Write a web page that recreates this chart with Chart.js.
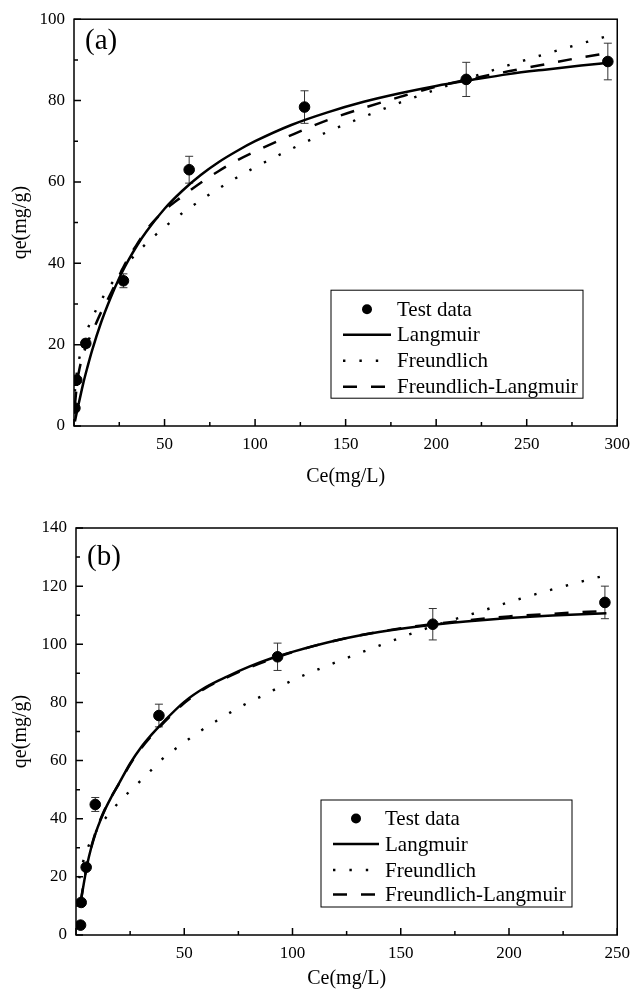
<!DOCTYPE html>
<html>
<head>
<meta charset="utf-8">
<script src="https://cdn.jsdelivr.net/npm/chart.js@4.4.1/dist/chart.umd.min.js"></script>
<style>
  html, body { margin: 0; padding: 0; background: #fff; }
  #wrap { position: relative; width: 638px; height: 996px; }
  .panel { position: absolute; left: 0; width: 638px; }
  #panelA { top: 0; height: 490px; }
  #panelB { top: 490px; height: 506px; }
</style>
</head>
<body>
<div id="wrap">
  <div class="panel" id="panelA"><canvas id="chartA" width="638" height="490"></canvas></div>
  <div class="panel" id="panelB"><canvas id="chartB" width="638" height="506"></canvas></div>
</div>
<script>
/* ── Isotherm fits, panels (a) and (b) ── */

const FONT = "'Liberation Serif', 'Times New Roman', serif";

// Panel (a): measured points
const aDataC   = [0.5, 1.5, 6.5, 27.3, 63.6, 127.3, 216.6, 294.8];
const aDataQ   = [4.4, 11.3, 20.3, 35.7, 63.0, 78.4, 85.2, 89.6];
const aDataErr = [0, 0, 1.0, 1.7, 3.3, 4.0, 4.2, 4.5];

// Panel (a): fitted curves
const aFitC       = [0.5, 1, 2, 3, 5, 7.5, 10, 15, 20, 25, 30, 35, 40, 50, 60, 70, 80, 90, 100, 120, 140, 160, 180, 200, 220, 240, 260, 280, 295];
const aLangmuir   = [1.1, 2.2, 4.3, 6.3, 10.3, 14.6, 18.6, 25.5, 31.3, 36.4, 40.7, 44.5, 47.8, 53.4, 57.9, 61.7, 64.9, 67.6, 70.0, 74.0, 77.1, 79.7, 81.8, 83.6, 85.1, 86.5, 87.6, 88.6, 89.3];
const aFreundlich = [8.5, 11.1, 14.4, 16.8, 20.4, 23.8, 26.5, 30.9, 34.5, 37.5, 40.2, 42.7, 44.9, 48.9, 52.4, 55.5, 58.4, 61.1, 63.6, 68.1, 72.3, 76.0, 79.5, 82.7, 85.8, 88.7, 91.4, 94.0, 95.9];
const aFreLang    = [5.0, 7.5, 11.5, 14.0, 17.5, 20.5, 23.0, 28.0, 32.3, 37.0, 41.3, 44.8, 48.2, 53.0, 56.5, 59.8, 62.7, 65.3, 67.5, 71.5, 75.2, 78.2, 80.9, 83.4, 85.4, 87.2, 88.9, 90.6, 91.7];

// Panel (b): measured points
const bDataC   = [2.1, 2.4, 4.7, 8.9, 38.3, 93.1, 164.8, 244.3];
const bDataQ   = [3.4, 11.2, 23.3, 44.9, 75.5, 95.7, 106.9, 114.4];
const bDataErr = [0, 0, 1.0, 2.4, 3.9, 4.7, 5.4, 5.6];

// Panel (b): fitted curves
const bFitC       = [2.1, 3, 4.5, 6, 8, 10, 13, 16, 20, 25, 30, 35, 40, 50, 60, 70, 80, 90, 100, 120, 140, 160, 180, 200, 220, 245];
const bLangmuir   = [10.9, 15.0, 21.5, 27.0, 32.5, 37.0, 42.5, 47.0, 52.3, 59.0, 64.5, 69.0, 73.0, 80.2, 85.3, 89.0, 92.3, 95.1, 97.4, 101.3, 104.2, 106.3, 107.8, 109.0, 109.9, 110.7];
const bFreLang    = [11.2, 15.3, 21.8, 27.3, 32.8, 37.3, 42.7, 47.1, 52.2, 58.7, 64.1, 68.6, 72.6, 79.8, 85.0, 88.7, 92.0, 94.8, 97.3, 101.3, 104.3, 106.5, 108.2, 109.6, 110.5, 111.5];
const bFreC       = [1.5, 2.5, 4, 6, 8, 10, 15, 20, 25, 30, 35, 41, 47, 54, 60, 67, 73, 80, 87, 93, 100, 120, 140, 157, 171, 186, 200, 215, 230, 245];
const bFreundlich = [19.5, 23.0, 27.0, 31.0, 34.0, 36.5, 41.5, 45.8, 49.6, 53.2, 56.9, 61.3, 64.6, 68.4, 71.4, 74.6, 77.3, 80.1, 82.6, 84.9, 87.6, 93.8, 99.5, 104.2, 107.7, 111.1, 114.5, 117.8, 120.9, 123.8];

const LABELS = ['Test data', 'Langmuir', 'Freundlich', 'Freundlich-Langmuir'];

function pairs(xs, ys) {
  return xs.map((x, i) => ({ x, y: ys[i] }));
}

function near(v, step) {
  return Math.abs(v / step - Math.round(v / step)) < 1e-6;
}

// frame, inward ticks, error bars, panel tag and legend
const figPlugin = {
  id: 'fig',
  beforeDatasetsDraw(chart) {
    const ctx = chart.ctx, xs = chart.scales.x, ys = chart.scales.y;
    const pts = chart.data.datasets[0];
    ctx.save();
    ctx.strokeStyle = '#333';
    ctx.lineWidth = 1;
    pts.data.forEach((p, i) => {
      const e = pts.errors[i];
      if (!e) return;
      const px = xs.getPixelForValue(p.x);
      const top = ys.getPixelForValue(p.y + e), bot = ys.getPixelForValue(p.y - e);
      ctx.beginPath();
      ctx.moveTo(px, top); ctx.lineTo(px, bot);
      ctx.moveTo(px - 4, top); ctx.lineTo(px + 4, top);
      ctx.moveTo(px - 4, bot); ctx.lineTo(px + 4, bot);
      ctx.stroke();
    });
    ctx.restore();
  },
  afterDraw(chart, args, opts) {
    const ctx = chart.ctx, a = chart.chartArea;
    const xs = chart.scales.x, ys = chart.scales.y;
    ctx.save();
    ctx.strokeStyle = '#000';
    ctx.lineWidth = 1.5;
    ctx.strokeRect(a.left, a.top, a.right - a.left, a.bottom - a.top);

    ctx.beginPath();
    xs.ticks.forEach(t => {
      const p = xs.getPixelForValue(t.value);
      const len = near(t.value, opts.xMajor) ? 7 : 4;
      ctx.moveTo(p, a.bottom); ctx.lineTo(p, a.bottom - len);
    });
    ys.ticks.forEach(t => {
      const p = ys.getPixelForValue(t.value);
      const len = near(t.value, opts.yMajor) ? 7 : 4;
      ctx.moveTo(a.left, p); ctx.lineTo(a.left + len, p);
    });
    ctx.stroke();

    // panel tag
    ctx.fillStyle = '#000';
    ctx.font = '29px ' + FONT;
    ctx.textAlign = 'left';
    ctx.textBaseline = 'alphabetic';
    ctx.fillText(opts.tag, a.left + 11, a.top + opts.tagY);

    // legend box
    const lg = opts.legend;
    const bx = a.left + lg.dx, by = a.top + lg.dy;
    ctx.lineWidth = 1;
    ctx.strokeRect(bx, by, lg.w, lg.h);
    ctx.font = '21px ' + FONT;
    ctx.textBaseline = 'middle';
    chart.data.datasets.forEach((ds, i) => {
      const y = by + lg.rows[i];
      if (ds.showLine === false) {
        ctx.beginPath();
        ctx.arc(bx + (lg.sym0 + lg.sym1) / 2, y, 5, 0, Math.PI * 2);
        ctx.fillStyle = '#000';
        ctx.fill();
      } else {
        ctx.beginPath();
        ctx.setLineDash(ds.borderDash || []);
        ctx.lineWidth = ds.borderWidth;
        ctx.strokeStyle = '#000';
        ctx.moveTo(bx + lg.sym0, y);
        ctx.lineTo(bx + lg.sym1, y);
        ctx.stroke();
        ctx.setLineDash([]);
      }
      ctx.fillStyle = '#000';
      ctx.fillText(ds.label, bx + lg.textX, y + 1);
    });
    ctx.restore();
  }
};

function fitLine(label, pts, dash, width) {
  return {
    type: 'line', label, data: pts,
    borderColor: '#000', borderWidth: width, borderDash: dash,
    pointRadius: 0, fill: false, cubicInterpolationMode: 'monotone', order: 2
  };
}

function makeChart(id, p) {
  return new Chart(document.getElementById(id), {
    type: 'scatter',
    data: {
      datasets: [
        { label: LABELS[0], data: pairs(p.dataC, p.dataQ), errors: p.err, showLine: false,
          pointRadius: 5.3, pointHoverRadius: 5.3, backgroundColor: '#000', borderColor: '#000', order: 0 },
        fitLine(LABELS[1], pairs(p.fitC, p.lang), [], 2.5),
        fitLine(LABELS[2], pairs(p.freC, p.fre), [2.4, 14], 2.4),
        fitLine(LABELS[3], pairs(p.fitC, p.fl), [14, 14], 2.5)
      ]
    },
    options: {
      responsive: false, animation: false,
      layout: { padding: { left: 0, top: p.padTop, right: p.padRight, bottom: 0 } },
      plugins: {
        legend: { display: false }, tooltip: { enabled: false },
        fig: { tag: p.tag, tagY: p.tagY, xMajor: 50, yMajor: 20, legend: p.legend }
      },
      scales: {
        x: {
          type: 'linear', min: 0, max: p.xMax,
          afterFit: s => { s.height = p.xAxisH; },
          grid: { display: false, drawTicks: false }, border: { display: false },
          ticks: { stepSize: 25, autoSkip: false, maxRotation: 0, padding: 8, color: '#000',
            font: { family: FONT, size: 17 },
            callback: v => (near(v, 50) && v !== 0) ? String(v) : '' },
          title: { display: true, text: 'Ce(mg/L)', color: '#000', font: { family: FONT, size: 20 },
            padding: { top: 0, bottom: p.xTitlePad } }
        },
        y: {
          type: 'linear', min: 0, max: p.yMax,
          afterFit: s => { s.width = p.yAxisW; },
          grid: { display: false, drawTicks: false }, border: { display: false },
          ticks: { stepSize: 10, autoSkip: false, padding: 9, color: '#000',
            font: { family: FONT, size: 17 },
            callback: v => near(v, 20) ? String(v) : '' },
          title: { display: true, text: 'qe(mg/g)', color: '#000', font: { family: FONT, size: 20 },
            padding: { top: 9, bottom: 0 } }
        }
      }
    },
    plugins: [figPlugin]
  });
}

makeChart('chartA', {
  dataC: aDataC, dataQ: aDataQ, err: aDataErr,
  fitC: aFitC, lang: aLangmuir, freC: aFitC, fre: aFreundlich, fl: aFreLang,
  xMax: 300, yMax: 100, padTop: 18, padRight: 15, xAxisH: 64, yAxisW: 74, xTitlePad: 1,
  tag: '(a)', tagY: 30,
  legend: { dx: 257, dy: 271, w: 252, h: 108, rows: [19, 44.5, 70.5, 96.5], sym0: 12, sym1: 60, textX: 66 }
});

makeChart('chartB', {
  dataC: bDataC, dataQ: bDataQ, err: bDataErr,
  fitC: bFitC, lang: bLangmuir, freC: bFreC, fre: bFreundlich, fl: bFreLang,
  xMax: 250, yMax: 140, padTop: 38, padRight: 12, xAxisH: 61, yAxisW: 76, xTitlePad: 5,
  tag: '(b)', tagY: 37,
  legend: { dx: 245, dy: 272, w: 251, h: 107, rows: [18.5, 44, 70, 94.5], sym0: 12, sym1: 58, textX: 64 }
});
</script>
</body>
</html>
